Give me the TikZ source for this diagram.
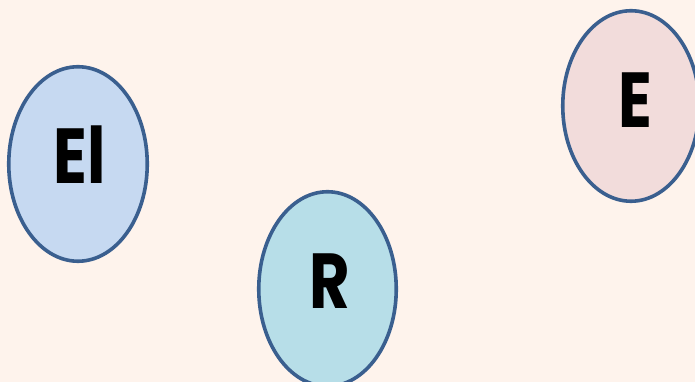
\documentclass[tikz,border=0pt]{standalone}
\usepackage{fontspec}
\setmainfont{Poppins}
\usetikzlibrary{shapes.geometric}
\definecolor{bgc}{HTML}{FEF3EC}
\definecolor{edgec}{HTML}{3A5F8F}
\definecolor{fillA}{HTML}{C6D9F1}
\definecolor{fillB}{HTML}{B7DEE8}
\definecolor{fillC}{HTML}{F2DCDB}
\newcommand{\narrowtxt}[1]{\scalebox{0.8}[1]{#1}}
\tikzset{
  oval/.style={ellipse, draw=edgec, line width=3.6pt, inner sep=0pt},
  lbl/.style={anchor=base, inner sep=0pt, font=\fontsize{78}{80}\selectfont\bfseries}
}
\begin{document}
\begin{tikzpicture}[x=1pt,y=1pt]
\fill[bgc] (0,0) rectangle (695,382);
\useasboundingbox (0,0) rectangle (695,382);
\node[oval, fill=fillA, minimum width=138.5pt, minimum height=194.5pt] (el) at (78,218) {};
\node[oval, fill=fillB, minimum width=137.5pt, minimum height=194.5pt] (r) at (327.5,93) {};
\node[oval, fill=fillC, minimum width=136.5pt, minimum height=190.5pt] (e) at (631,276) {};
\node[lbl] (tel) at (80,198) {\narrowtxt{El}};
\node[lbl] (tr) at (330,73) {\narrowtxt{R}};
\node[lbl] (te) at (635,254) {\narrowtxt{E}};
\end{tikzpicture}
\end{document}
